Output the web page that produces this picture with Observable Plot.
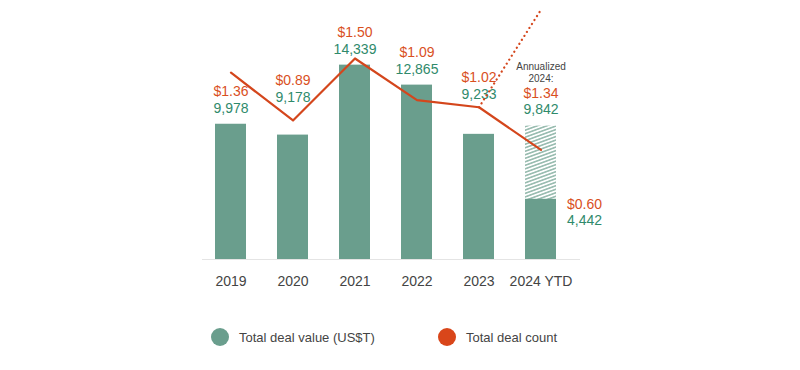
<!DOCTYPE html>
<html><head><meta charset="utf-8">
<script src="https://cdn.jsdelivr.net/npm/d3@7"></script>
<script src="https://cdn.jsdelivr.net/npm/@observablehq/plot@0.6"></script>
<style>
body{margin:0;background:#fff;font-family:"Liberation Sans",Arial,sans-serif;}
#wrap{position:relative;width:800px;height:370px;overflow:hidden;}
#chart{position:absolute;top:0;left:0;}
#legend{position:absolute;top:300px;left:0;width:800px;height:70px;}
.item{position:absolute;top:28px;display:flex;align-items:center;font-size:13px;color:#444;white-space:nowrap;}
.dot{width:18px;height:18px;border-radius:50%;margin-right:10px;flex:none;}
</style></head>
<body>
<svg width="0" height="0" style="position:absolute">
  <defs>
    <pattern id="hatch" patternUnits="userSpaceOnUse" width="12" height="3.3" patternTransform="rotate(-20)">
      <line x1="0" y1="1.65" x2="12" y2="1.65" stroke="#5f9784" stroke-width="1.05"/>
    </pattern>
  </defs>
</svg>
<div id="wrap">
  <div id="chart"></div>
  <div id="legend">
    <div class="item" style="left:211px"><span class="dot" style="background:#6a9e8d"></span>Total deal value (US$T)</div>
    <div class="item" style="left:438px"><span class="dot" style="background:#d9461a"></span>Total deal count</div>
  </div>
</div>
<script>
const years = ["2019", "2020", "2021", "2022", "2023", "2024 YTD"];
const dealCounts = [9978, 9178, 14339, 12865, 9233, 4442];
const dealValues = [1.36, 0.89, 1.50, 1.09, 1.02, 0.60];
const annualizedYear = "2024 YTD";
const annualizedCount = 9842;
const annualizedValue = 1.34;
const annualizedLineEnd = 1.98; // where the dotted projection ends in the picture
const annualizedNote = "Annualized\n2024:";

const green = "#6a9e8d";
const greenText = "#2f8a6b";
const orange = "#d4461c";
const orangeText = "#d9501e";
const font = "'Liberation Sans', Arial, sans-serif";

const rows = years.map((year, i) => ({year, count: dealCounts[i], value: dealValues[i]}));
const full = rows.slice(0, -1);
const ytd = rows.slice(-1);
const annual = [{year: annualizedYear, count: annualizedCount, value: annualizedValue}];
const fmtCount = d3.format(",");
const fmtValue = v => "$" + v.toFixed(2);

const H = 300, MB = 41, YMAX = 19107;
const k = (H - MB) / YMAX;             // pixels per count unit
const px = p => p / k;                  // pixel offset -> count units
// secondary value axis mapped into the count axis units
const toY = v => 3585 + 7495 * v;
// extra lift for labels that sit above the line
const lift = {"2020": 38, "2023": 40};
const liftOf = d => lift[d.year] ?? 16;

const chart = Plot.plot({
  width: 800,
  height: H,
  marginLeft: 181,
  marginRight: 211,
  marginTop: 0,
  marginBottom: MB,
  style: {fontFamily: font, fontSize: "14px", color: "#444", background: "#fff"},
  x: {domain: years, paddingInner: 0.5, paddingOuter: 0.5, tickSize: 0, tickPadding: 17, label: null},
  y: {domain: [0, YMAX], axis: null},
  marks: [
    Plot.ruleY([0], {stroke: "#e4e4e4", strokeWidth: 1, insetLeft: 21, insetRight: 9}),
    Plot.barY(full, {x: "year", y: "count", fill: green}),
    Plot.barY(annual, {x: "year", y: "count", fill: "url(#hatch)"}),
    Plot.barY(ytd, {x: "year", y: "count", fill: green}),
    Plot.lineY(rows, {x: "year", y: d => toY(d.value), stroke: orange, strokeWidth: 2.2}),
    // labels above full-year bars
    Plot.text(full, {x: "year", y: d => d.count + px(liftOf(d)), text: d => fmtCount(d.count), fill: greenText, fontSize: 14}),
    Plot.text(full, {x: "year", y: d => d.count + px(liftOf(d) + 16.5), text: d => fmtValue(d.value), fill: orangeText, fontSize: 14}),
    // annualized 2024 labels
    Plot.text(annual, {x: "year", y: d => d.count + px(17), text: d => fmtCount(d.count), fill: greenText, fontSize: 14}),
    Plot.text(annual, {x: "year", y: d => d.count + px(33), text: d => fmtValue(d.value), fill: orangeText, fontSize: 14}),
    Plot.text(annual, {x: "year", y: d => d.count + px(54), text: () => annualizedNote, fill: "#444", fontSize: 10, lineHeight: 1.2}),
    // YTD labels to the right of the bar
    Plot.text(ytd, {x: "year", y: d => d.count - px(21), text: d => fmtCount(d.count), fill: greenText, fontSize: 14, textAnchor: "start", dx: 26}),
    Plot.text(ytd, {x: "year", y: d => d.count - px(5), text: d => fmtValue(d.value), fill: orangeText, fontSize: 14, textAnchor: "start", dx: 26}),
    // dotted annualized projection
    Plot.lineY([{year: years[4], v: dealValues[4]}, {year: annualizedYear, v: annualizedLineEnd}],
      {x: "year", y: d => toY(d.v), stroke: orange, strokeWidth: 2.2, strokeDasharray: "0.1 4.6", strokeLinecap: "round"})
  ]
});
document.getElementById("chart").append(chart);
</script>
</body></html>
